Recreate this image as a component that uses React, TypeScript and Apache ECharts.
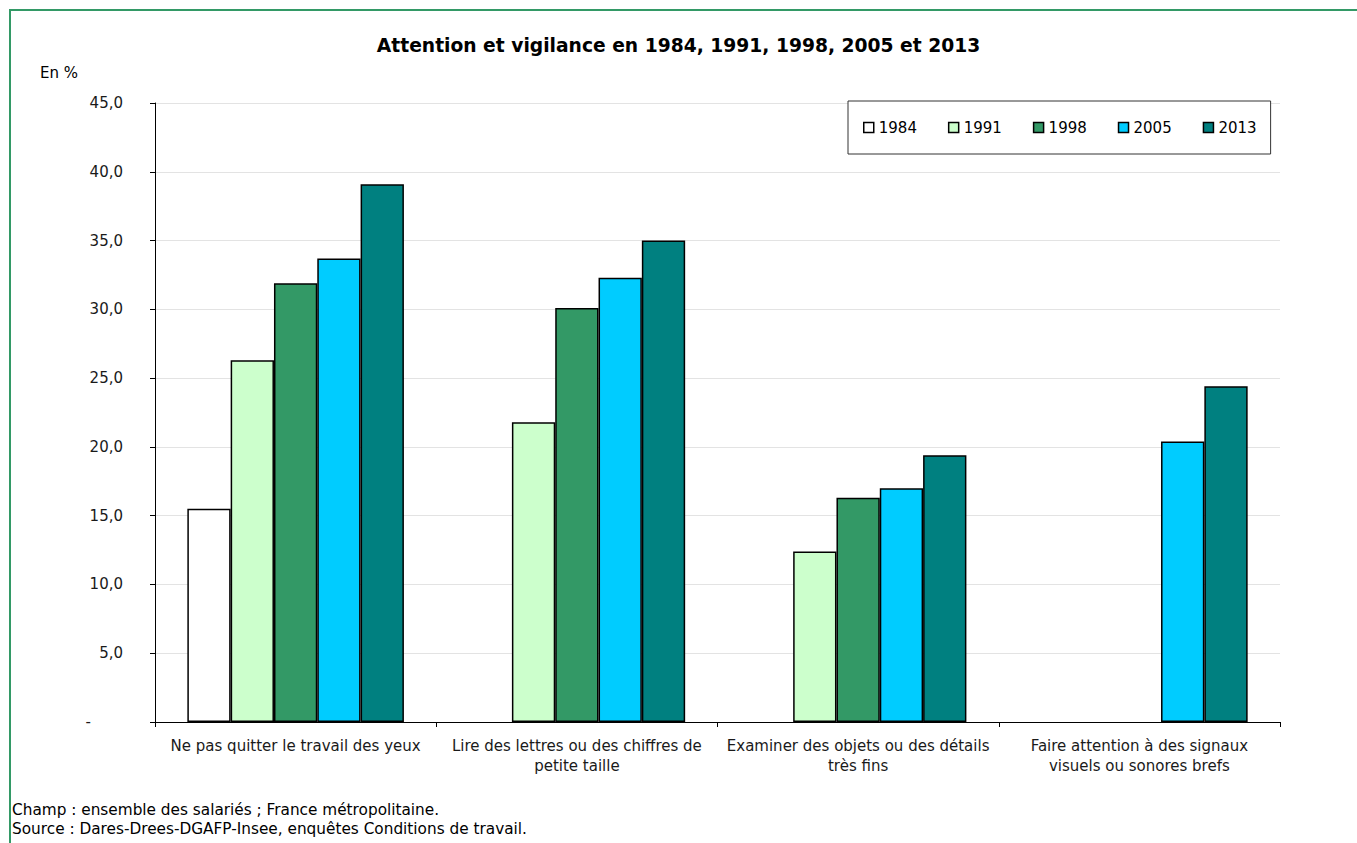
import React, { useEffect, useRef } from "react";
import * as echarts from "echarts";

const categories = [
  "Ne pas quitter le travail des yeux",
  "Lire des lettres ou des chiffres de\npetite taille",
  "Examiner des objets ou des détails\ntrès fins",
  "Faire attention à des signaux\nvisuels ou sonores brefs",
];
const years = ["1984", "1991", "1998", "2005", "2013"];
const v1984 = [15.5, null, null, null];
const v1991 = [26.3, 21.8, 12.4, null];
const v1998 = [31.9, 30.1, 16.3, null];
const v2005 = [33.7, 32.3, 17.0, 20.4];
const v2013 = [39.1, 35.0, 19.4, 24.4];
const yTickLabels = ["-", "5,0", "10,0", "15,0", "20,0", "25,0", "30,0", "35,0", "40,0", "45,0"];
const colors = ["#FFFFFF", "#CCFFCC", "#339966", "#00CCFF", "#008080"];
const title = "Attention et vigilance en 1984, 1991, 1998, 2005 et 2013";
const unitLabel = "En %";
const footnotes = [
  "Champ : ensemble des salariés ; France métropolitaine.",
  "Source : Dares-Drees-DGAFP-Insee, enquêtes Conditions de travail.",
];

const FONT = "DejaVu Sans";

export default function App() {
  const ref = useRef<HTMLDivElement>(null);
  useEffect(() => {
    if (!ref.current) return;
    const chart = echarts.init(ref.current, null, { renderer: "svg" });
    const seriesData = [v1984, v1991, v1998, v2005, v2013];
    chart.setOption({
      animation: false,
      backgroundColor: "#ffffff",
      textStyle: { fontFamily: FONT },
      title: {
        text: title,
        left: "center",
        top: 31,
        textStyle: { fontFamily: FONT, fontSize: 18.7, fontWeight: "bold", color: "#000" },
      },
      legend: {
        left: 848,
        top: 101,
        data: years,
        icon: "rect",
        itemWidth: 10,
        itemHeight: 10,
        itemGap: 31,
        padding: [19, 14, 19, 15],
        borderColor: "#333",
        borderWidth: 1,
        backgroundColor: "#fff",
        borderRadius: 0,
        itemStyle: { borderColor: "#000", borderWidth: 1.5 },
        textStyle: { fontFamily: FONT, fontSize: 15, color: "#000" },
      },
      grid: { left: 155, right: 77, top: 103, bottom: 121, containLabel: false },
      xAxis: {
        type: "category",
        data: categories,
        axisLine: { lineStyle: { color: "#000", width: 1 } },
        axisTick: { show: true, length: 5, lineStyle: { color: "#000" } },
        axisLabel: {
          fontFamily: FONT,
          fontSize: 15,
          color: "#1a1a1a",
          margin: 14,
          lineHeight: 20,
          interval: 0,
        },
      },
      yAxis: {
        type: "value",
        min: 0,
        max: 45,
        interval: 5,
        axisLine: { show: true, lineStyle: { color: "#000", width: 1 } },
        axisTick: { show: true, length: 5, lineStyle: { color: "#000" } },
        splitLine: { lineStyle: { color: "#e3e3e3", width: 1 } },
        axisLabel: {
          fontFamily: FONT,
          fontSize: 15,
          color: "#1a1a1a",
          margin: 32,
          formatter: (v: number) => {
            const s = yTickLabels[Math.round(v / 5)];
            return v === 0 ? "{dash|" + s + "}" : s;
          },
          rich: { dash: { fontFamily: FONT, fontSize: 15, color: "#1a1a1a", padding: [0, 32, 0, 0] } },
        },
      },
      series: years.map((y, i) => ({
        name: y,
        type: "bar",
        data: seriesData[i],
        barGap: "0%",
        barCategoryGap: "23%",
        itemStyle: { color: colors[i], borderColor: "#000", borderWidth: 1.5 },
      })),
      graphic: [
        {
          type: "rect",
          shape: { x: 10, y: 10, width: 1400, height: 900 },
          style: { fill: "none", stroke: "#339966", lineWidth: 2 },
          silent: true,
        },
        {
          type: "text",
          x: 40,
          y: 65,
          style: { text: unitLabel, fontFamily: FONT, fontSize: 15, fill: "#000" },
        },
        {
          type: "text",
          x: 12,
          y: 802,
          style: { text: footnotes[0], fontFamily: FONT, fontSize: 15.3, fill: "#000" },
        },
        {
          type: "text",
          x: 12,
          y: 821,
          style: { text: footnotes[1], fontFamily: FONT, fontSize: 15.3, fill: "#000" },
        },
      ],
    });
    return () => chart.dispose();
  }, []);
  return (
    <div
      ref={ref}
      style={{ position: "fixed", left: 0, top: 0, width: 1357, height: 843 }}
    />
  );
}
